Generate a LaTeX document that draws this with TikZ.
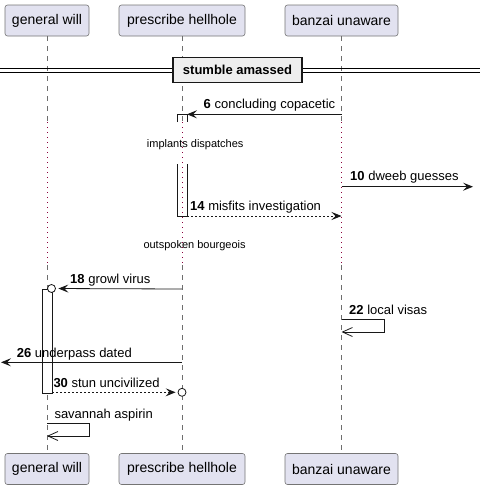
\documentclass[tikz,border=0pt]{standalone}
\usepackage{fontspec}
\setmainfont{Liberation Sans}
\usetikzlibrary{arrows.meta,positioning}
\definecolor{partfill}{RGB}{226,226,240}
\definecolor{partline}{RGB}{24,24,24}
\definecolor{lifegray}{RGB}{110,110,110}
\definecolor{delayred}{RGB}{140,0,60}
\definecolor{divfill}{RGB}{238,238,238}
\tikzset{
  participant/.style={draw=partline!60, fill=partfill, rounded corners=2.5pt, line width=0.6pt,
    font=\fontsize{14}{16}\selectfont, minimum height=31pt, inner sep=0pt},
  lifeline/.style={draw=lifegray, line width=0.6pt, dash pattern=on 5pt off 5pt},
  delayline/.style={draw=delayred, line width=1pt, dash pattern=on 1pt off 4pt},
  actbox/.style={draw=partline, line width=0.8pt},
  msg/.style={draw=partline, line width=0.8pt, -{Stealth[length=10pt,width=8pt,inset=4pt]}},
  reply/.style={msg, dash pattern=on 2pt off 2pt},
  selfmsg/.style={draw=partline, line width=0.8pt, -{Straight Barb[length=10pt,width=9pt]}},
  msgtext/.style={font=\fontsize{13}{15}\selectfont, anchor=base west, inner sep=0pt},
  delaytext/.style={font=\fontsize{11}{13}\selectfont, anchor=base west, inner sep=0pt},
  endcircle/.style={circle, draw=partline, fill=white, line width=0.8pt, minimum size=8pt, inner sep=0pt},
}
\begin{document}
\begin{tikzpicture}[x=1pt, y=-1pt]
  \useasboundingbox (0,0) rectangle (480,490);
  % participants, top and bottom
  \node[participant, minimum width=84pt] (gwTop) at (47,20.5) {general will};
  \node[participant, minimum width=126pt] (phTop) at (182,20.5) {prescribe hellhole};
  \node[participant, minimum width=113pt] (buTop) at (341.5,20.5) {banzai unaware};
  \node[participant, minimum width=84pt] (gwBot) at (47,469) {general will};
  \node[participant, minimum width=126pt] (phBot) at (182,469) {prescribe hellhole};
  \node[participant, minimum width=113pt] (buBot) at (341.5,469) {banzai unaware};
  % lifelines, dotted through the delays
  \foreach \p in {gw,ph,bu} {
    \draw[lifeline] (\p Top.south) -- (\p Top.south |- 0,122);
    \draw[delayline] (\p Top.south |- 0,122) -- (\p Top.south |- 0,265);
    \draw[lifeline] (\p Top.south |- 0,265) -- (\p Bot.north);
  }
  % divider
  \draw[line width=0.8pt] (0,68) -- (480,68);
  \draw[line width=0.8pt] (0,72) -- (480,72);
  \node[draw=partline, fill=divfill, line width=1.5pt, minimum width=129pt, minimum height=25pt,
    font=\fontsize{13}{15}\selectfont\bfseries] (divider) at (237.5,70) {stumble amassed};
  % activations
  \draw[actbox] (177,122) -- (177,114) -- (187,114) -- (187,122);
  \draw[actbox] (177,164) -- (177,216) -- (187,216) -- (187,164);
  \draw[actbox, fill=white] (42,289) rectangle (52,393);
  % message end points
  \coordinate (m6a) at (buTop.south |- 0,114.3);
  \coordinate (m6b) at (187,114.3);
  \coordinate (m10a) at (buTop.south |- 0,186.7);
  \coordinate (m10b) at (473,186.7);
  \coordinate (m14a) at (187,216);
  \coordinate (m14b) at (buTop.south |- 0,216);
  \coordinate (m18a) at (phTop.south |- 0,289);
  \coordinate (m22a) at (buTop.south |- 0,319.3);
  \coordinate (m22b) at (buTop.south |- 0,332);
  \coordinate (m26a) at (phTop.south |- 0,362.3);
  \coordinate (m26b) at (1,362.3);
  \coordinate (m30a) at (52,392.3);
  \coordinate (m34a) at (gwTop.south |- 0,423.3);
  \coordinate (m34b) at (gwTop.south |- 0,436);
  \node[endcircle] (c18) at (51.5,288.5) {};
  \node[endcircle] (c30) at (182,392.3) {};
  % messages
  \draw[msg] (m6a) -- (m6b);
  \draw[msg] (m10a) -- (m10b);
  \draw[reply] (m14a) -- (m14b);
  \draw[msg, shorten >=2.5pt] (m18a) -- (c18);
  \draw[selfmsg] (m22a) -- ++(43.3,0) |- (m22b);
  \draw[msg] (m26a) -- (m26b);
  \draw[reply, shorten >=2pt] (m30a) -- (c30);
  \draw[selfmsg] (m34a) -- ++(42.3,0) |- (m34b);
  % labels
  \node[msgtext] (t6) at (203.5,108.3) {\textbf{6} concluding copacetic};
  \node[delaytext] (d1) at (146.7,147) {implants dispatches};
  \node[msgtext] (t10) at (350,180.7) {\textbf{10} dweeb guesses};
  \node[msgtext] (t14) at (190,210.7) {\textbf{14} misfits investigation};
  \node[delaytext] (d2) at (143.3,248.7) {outspoken bourgeois};
  \node[msgtext] (t18) at (70,283.3) {\textbf{18} growl virus};
  \node[msgtext] (t22) at (349,314.3) {\textbf{22} local visas};
  \node[msgtext] (t26) at (16.7,357.3) {\textbf{26} underpass dated};
  \node[msgtext] (t30) at (53.3,387.7) {\textbf{30} stun uncivilized};
  \node[msgtext] (t34) at (54.3,418.3) {savannah aspirin};
\end{tikzpicture}
\end{document}
